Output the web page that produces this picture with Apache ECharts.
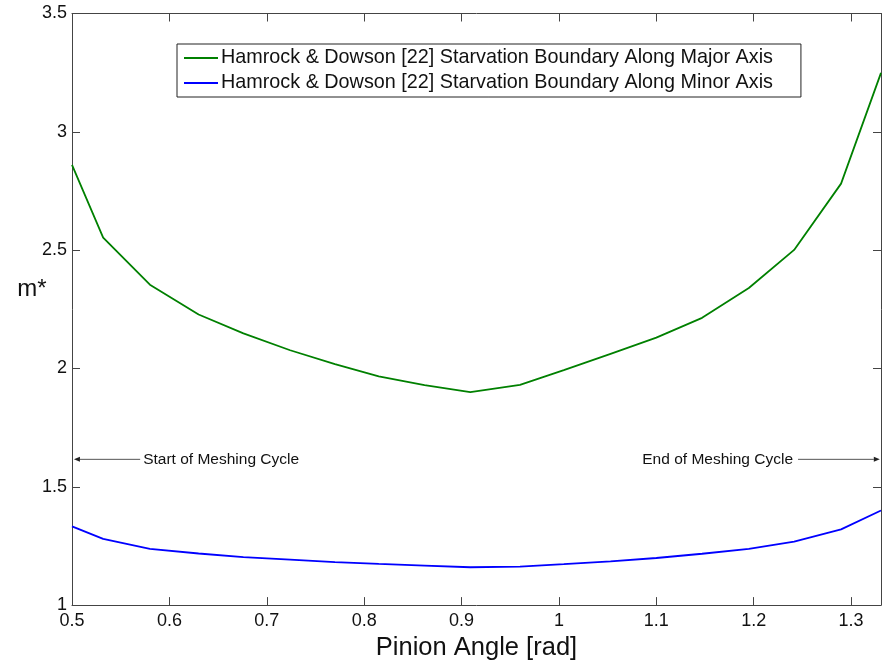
<!DOCTYPE html>
<html>
<head>
<meta charset="utf-8">
<script src="https://cdn.jsdelivr.net/npm/echarts@6/dist/echarts.min.js"></script>
<style>
html,body{margin:0;padding:0;background:#fff;}
#chart{width:882px;height:666px;}
</style>
</head>
<body>
<div id="chart"></div>
<script>
// Pinion angle [rad]
const pinionAngle = [0.5, 0.532, 0.580, 0.630, 0.676, 0.724, 0.770, 0.815, 0.862, 0.909, 0.960, 1.005, 1.053, 1.100, 1.147, 1.195, 1.2415, 1.2897, 1.3307];
// m* along major axis
const majorAxis = [2.860, 2.553, 2.354, 2.228, 2.148, 2.077, 2.018, 1.967, 1.930, 1.900, 1.931, 1.993, 2.062, 2.130, 2.214, 2.340, 2.501, 2.781, 3.249];
// m* along minor axis
const minorAxis = [1.333, 1.280, 1.238, 1.218, 1.203, 1.192, 1.182, 1.174, 1.167, 1.160, 1.163, 1.173, 1.185, 1.199, 1.217, 1.238, 1.268, 1.320, 1.400];

const seriesNames = [
  'Hamrock & Dowson [22] Starvation Boundary Along Major Axis',
  'Hamrock & Dowson [22] Starvation Boundary Along Minor Axis'
];
const xName = 'Pinion Angle [rad]';
const yName = 'm*';
const xMin = 0.5, xMax = 1.3307, xStep = 0.1;
const yMin = 1, yMax = 3.5, yStep = 0.5;

// annotations (data space)
const startNote = {text: 'Start of Meshing Cycle', from: [0.570, 1.616], to: [0.502, 1.616]};
const endNote = {text: 'End of Meshing Cycle', from: [1.2455, 1.616], to: [1.3295, 1.616]};

const axisColor = '#444';
const FONT = 'Liberation Sans, Arial, sans-serif';

const chart = echarts.init(document.getElementById('chart'), null, {renderer: 'canvas'});

function pairs(xs, ys) { return xs.map((x, i) => [x, ys[i]]); }

const boxAxisCommon = {
  axisLine: {show: true, onZero: false, lineStyle: {color: axisColor, width: 1}},
  axisTick: {show: true, inside: true, length: 8, lineStyle: {color: axisColor}},
  splitLine: {show: false}
};

const option = {
  animation: false,
  backgroundColor: '#fff',
  grid: {left: 72, top: 13.5, right: 1, bottom: 56.5, containLabel: false},
  legend: {
    orient: 'vertical',
    left: 177, top: 44,
    padding: [4, 28, 4, 7],
    itemWidth: 34, itemHeight: 2,
    itemGap: 5,
    icon: 'rect',
    borderColor: '#222', borderWidth: 1,
    backgroundColor: '#fff',
    textStyle: {fontFamily: FONT, fontSize: 19.8, color: '#111', padding: [0, 0, 0, -2]},
    data: seriesNames
  },
  xAxis: [
    Object.assign({}, boxAxisCommon, {
      type: 'value', min: xMin, max: xMax, interval: xStep, position: 'bottom',
      name: xName, nameLocation: 'middle', nameGap: 28,
      nameTextStyle: {fontFamily: FONT, fontSize: 25.5, color: '#111'},
      axisLabel: {
        color: '#111', fontFamily: FONT, fontSize: 18, margin: 7, showMaxLabel: false,
        formatter: v => (Math.abs(v - xMax) < 1e-6 ? '' : String(Math.round(v * 10) / 10))
      }
    }),
    Object.assign({}, boxAxisCommon, {
      type: 'value', min: xMin, max: xMax, interval: xStep, position: 'top',
      axisLabel: {show: false}
    })
  ],
  yAxis: [
    Object.assign({}, boxAxisCommon, {
      type: 'value', min: yMin, max: yMax, interval: yStep, position: 'left',
      axisLabel: {color: '#111', fontFamily: FONT, fontSize: 18, margin: 5,
        formatter: v => String(Math.round(v * 10) / 10)}
    }),
    Object.assign({}, boxAxisCommon, {
      type: 'value', min: yMin, max: yMax, interval: yStep, position: 'right',
      axisLabel: {show: false}
    })
  ],
  series: [
    {
      name: seriesNames[0], type: 'line', data: pairs(pinionAngle, majorAxis),
      showSymbol: false, symbol: 'none', color: '#008000',
      lineStyle: {color: '#008000', width: 1.8}
    },
    {
      name: seriesNames[1], type: 'line', data: pairs(pinionAngle, minorAxis),
      showSymbol: false, symbol: 'none', color: '#0000ff',
      lineStyle: {color: '#0000ff', width: 1.8}
    }
  ]
};

chart.setOption(option);

function noteGraphics(note, side) {
  const a = chart.convertToPixel({gridIndex: 0}, note.from);
  const b = chart.convertToPixel({gridIndex: 0}, note.to);
  const dir = Math.sign(b[0] - a[0]);
  const headLen = 6, headHalf = 2.5;
  return [
    {type: 'line', shape: {x1: a[0], y1: a[1], x2: b[0] - dir * headLen, y2: b[1]},
     style: {stroke: '#555', lineWidth: 1}, z: 10},
    {type: 'polygon', shape: {points: [[b[0], b[1]], [b[0] - dir * headLen, b[1] - headHalf], [b[0] - dir * headLen, b[1] + headHalf]]},
     style: {fill: '#222'}, z: 10},
    {type: 'text', x: side === 'left' ? a[0] + 3 : a[0] - 5, y: a[1],
     style: {text: note.text, fontFamily: FONT, fontSize: 15.5, fill: '#111',
       align: side === 'left' ? 'left' : 'right', verticalAlign: 'middle'}, z: 10}
  ];
}

const yNamePos = chart.convertToPixel({gridIndex: 0}, [xMin, 2.335]);
chart.setOption({graphic: [].concat(noteGraphics(startNote, 'left'), noteGraphics(endNote, 'right'), [
  {type: 'text', x: 32, y: yNamePos[1], style: {text: yName, fontFamily: FONT, fontSize: 24, fill: '#111', align: 'center', verticalAlign: 'middle'}}
])});
</script>
</body>
</html>
